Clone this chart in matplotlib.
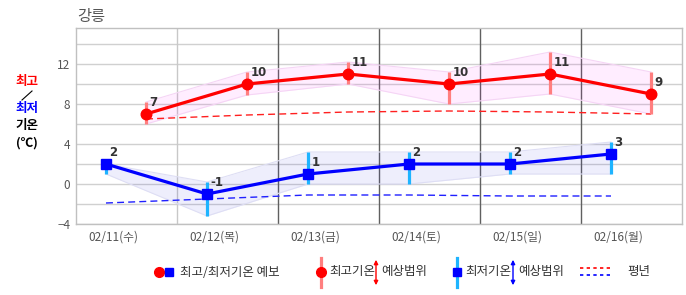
import matplotlib
matplotlib.use("Agg")
import matplotlib.pyplot as plt
from matplotlib.lines import Line2D
import numpy as np

plt.rcParams['font.family'] = ['Noto Sans CJK KR', 'DejaVu Sans']

title = "강릉"
dates = ["02/11(수)", "02/12(목)", "02/13(금)", "02/14(토)", "02/15(일)", "02/16(월)"]
tmax = [7, 10, 11, 10, 11, 9]
tmax_lo = [6.0, 8.9, 10.0, 8.0, 9.0, 7.0]
tmax_hi = [8.2, 11.2, 12.2, 11.2, 13.2, 11.2]
tmin = [2, -1, 1, 2, 2, 3]
tmin_lo = [1.0, -3.2, 0.0, 0.0, 1.0, 1.0]
tmin_hi = [2.0, 0.2, 3.2, 3.2, 3.2, 4.2]
norm_max = [6.5, 6.9, 7.2, 7.3, 7.2, 7.0]
norm_min = [-1.9, -1.5, -1.1, -1.1, -1.2, -1.2]
yticks = [-4, 0, 4, 8, 12]

W, H = 686, 295
fig = plt.figure(figsize=(W / 100, H / 100), dpi=100)
ax = fig.add_axes([76 / W, 1 - 224 / H, (682 - 76) / W, (224 - 28) / H])

n = len(dates)
day = np.arange(n)
xmin = day + 0.297
xmax = day + 0.693

ax.set_xlim(0, n)
ax.set_ylim(-4, 15.6)

# grid
for yv in np.arange(-4, 16, 2):
    ax.axhline(yv, color='#d0d0d0', lw=1, zorder=0)
for i in range(1, n):
    ax.axvline(i, color='#c8c8c8' if i == 1 else '#606060', lw=1, zorder=0)
for s in ax.spines.values():
    s.set_color('#c0c0c0')
    s.set_linewidth(1)

# bands
ax.fill_between(xmax, tmax_lo, tmax_hi, color='#ff00ff', alpha=0.07, lw=0, zorder=1)
ax.plot(xmax, tmax_hi, color='#f5d5f5', lw=0.8, zorder=1)
ax.plot(xmax, tmax_lo, color='#f5d5f5', lw=0.8, zorder=1)
ax.fill_between(xmin, tmin_lo, tmin_hi, color='#2020e0', alpha=0.075, lw=0, zorder=1)
ax.plot(xmin, tmin_hi, color='#dedef4', lw=0.8, zorder=1)
ax.plot(xmin, tmin_lo, color='#dedef4', lw=0.8, zorder=1)

# normals
ax.plot(xmax, norm_max, color='#ff2020', lw=1, dashes=(5, 3), zorder=2)
ax.plot(xmin, norm_min, color='#2020ff', lw=1, dashes=(5, 3), zorder=2)

# error bars
ax.vlines(xmax, tmax_lo, tmax_hi, color='#ff7f7f', lw=2.3, zorder=3)
ax.vlines(xmin, tmin_lo, tmin_hi, color='#1eb4ff', lw=2.3, zorder=3)

# lines
ax.plot(xmax, tmax, color='#ff0000', lw=2.3, marker='o', ms=7.6, zorder=4)
ax.plot(xmin, tmin, color='#0000ff', lw=2.3, marker='s', ms=7.4, zorder=4)

for x, v in zip(xmax, tmax):
    ax.annotate(str(v), (x, v), xytext=(2.5, 3.5), textcoords='offset points',
                ha='left', va='bottom', fontsize=8.5, fontweight='bold', color='#333333',
                family=['DejaVu Sans'], zorder=5)
for x, v in zip(xmin, tmin):
    ax.annotate(str(v), (x, v), xytext=(2.5, 3.5), textcoords='offset points',
                ha='left', va='bottom', fontsize=8.5, fontweight='bold', color='#333333',
                family=['DejaVu Sans'], zorder=5)

ax.set_yticks(yticks)
ax.set_yticklabels([str(v).replace('-', '−') for v in yticks])
ax.set_xticks(day + 0.366)
ax.set_xticklabels(dates)
ax.tick_params(axis='both', length=0, labelsize=8.5, labelcolor='#555555')
ax.tick_params(axis='y', pad=4)
ax.tick_params(axis='x', pad=5)

# title
fig.text(77 / W, 1 - 16 / H, title, fontsize=11, color='#555555', ha='left', va='center')

# y label
fig.text(27 / W, 1 - 81 / H, "최고", color='#ff0000', fontsize=9, fontweight='bold', ha='center', va='center')
fig.add_artist(Line2D([22 / W, 32 / W], [1 - 100 / H, 1 - 91 / H], color='black', lw=0.8))
fig.text(27 / W, 1 - 109 / H, "최저", color='#0000ff', fontsize=9, fontweight='bold', ha='center', va='center')
fig.text(27 / W, 1 - 126 / H, "기온", color='black', fontsize=9, fontweight='bold', ha='center', va='center')
fig.text(27 / W, 1 - 143 / H, "(℃)", color='black', fontsize=9, fontweight='bold', ha='center', va='center')

# legend
ly = 1 - 272 / H
fig.add_artist(Line2D([159 / W], [ly], marker='o', color='#ff0000', ms=7, lw=0))
fig.add_artist(Line2D([169 / W], [ly], marker='s', color='#0000ff', ms=6, lw=0))
fig.text(180 / W, ly, "최고/최저기온 예보", fontsize=9, color='#333333', ha='left', va='center')

fig.add_artist(Line2D([321 / W, 321 / W], [1 - 258 / H, 1 - 287 / H], color='#ff7f7f', lw=2.3))
fig.add_artist(Line2D([321 / W], [ly], marker='o', color='#ff0000', ms=7, lw=0))
fig.text(329 / W, ly, "최고기온", fontsize=9, color='#333333', ha='left', va='center')
ax.annotate('', xy=(376, H - 257), xytext=(376, H - 288), xycoords='figure pixels',
            textcoords='figure pixels',
            arrowprops=dict(arrowstyle='<|-|>', color='#ff0000', lw=1, mutation_scale=6))
fig.text(381 / W, ly, "예상범위", fontsize=9, color='#333333', ha='left', va='center')

fig.add_artist(Line2D([457 / W, 457 / W], [1 - 258 / H, 1 - 287 / H], color='#1eb4ff', lw=2.3))
fig.add_artist(Line2D([457 / W], [ly], marker='s', color='#0000ff', ms=6, lw=0))
fig.text(465 / W, ly, "최저기온", fontsize=9, color='#333333', ha='left', va='center')
ax.annotate('', xy=(513, H - 257), xytext=(513, H - 288), xycoords='figure pixels',
            textcoords='figure pixels',
            arrowprops=dict(arrowstyle='<|-|>', color='#0000ff', lw=1, mutation_scale=6))
fig.text(518 / W, ly, "예상범위", fontsize=9, color='#333333', ha='left', va='center')

fig.add_artist(Line2D([580 / W, 612 / W], [1 - 268 / H, 1 - 268 / H], color='#ff0000', lw=1.2, dashes=(2, 2)))
fig.add_artist(Line2D([580 / W, 612 / W], [1 - 275 / H, 1 - 275 / H], color='#0000ff', lw=1.2, dashes=(2, 2)))
fig.text(627 / W, ly, "평년", fontsize=9, color='#333333', ha='left', va='center')

fig.savefig("out.png", dpi=100)
